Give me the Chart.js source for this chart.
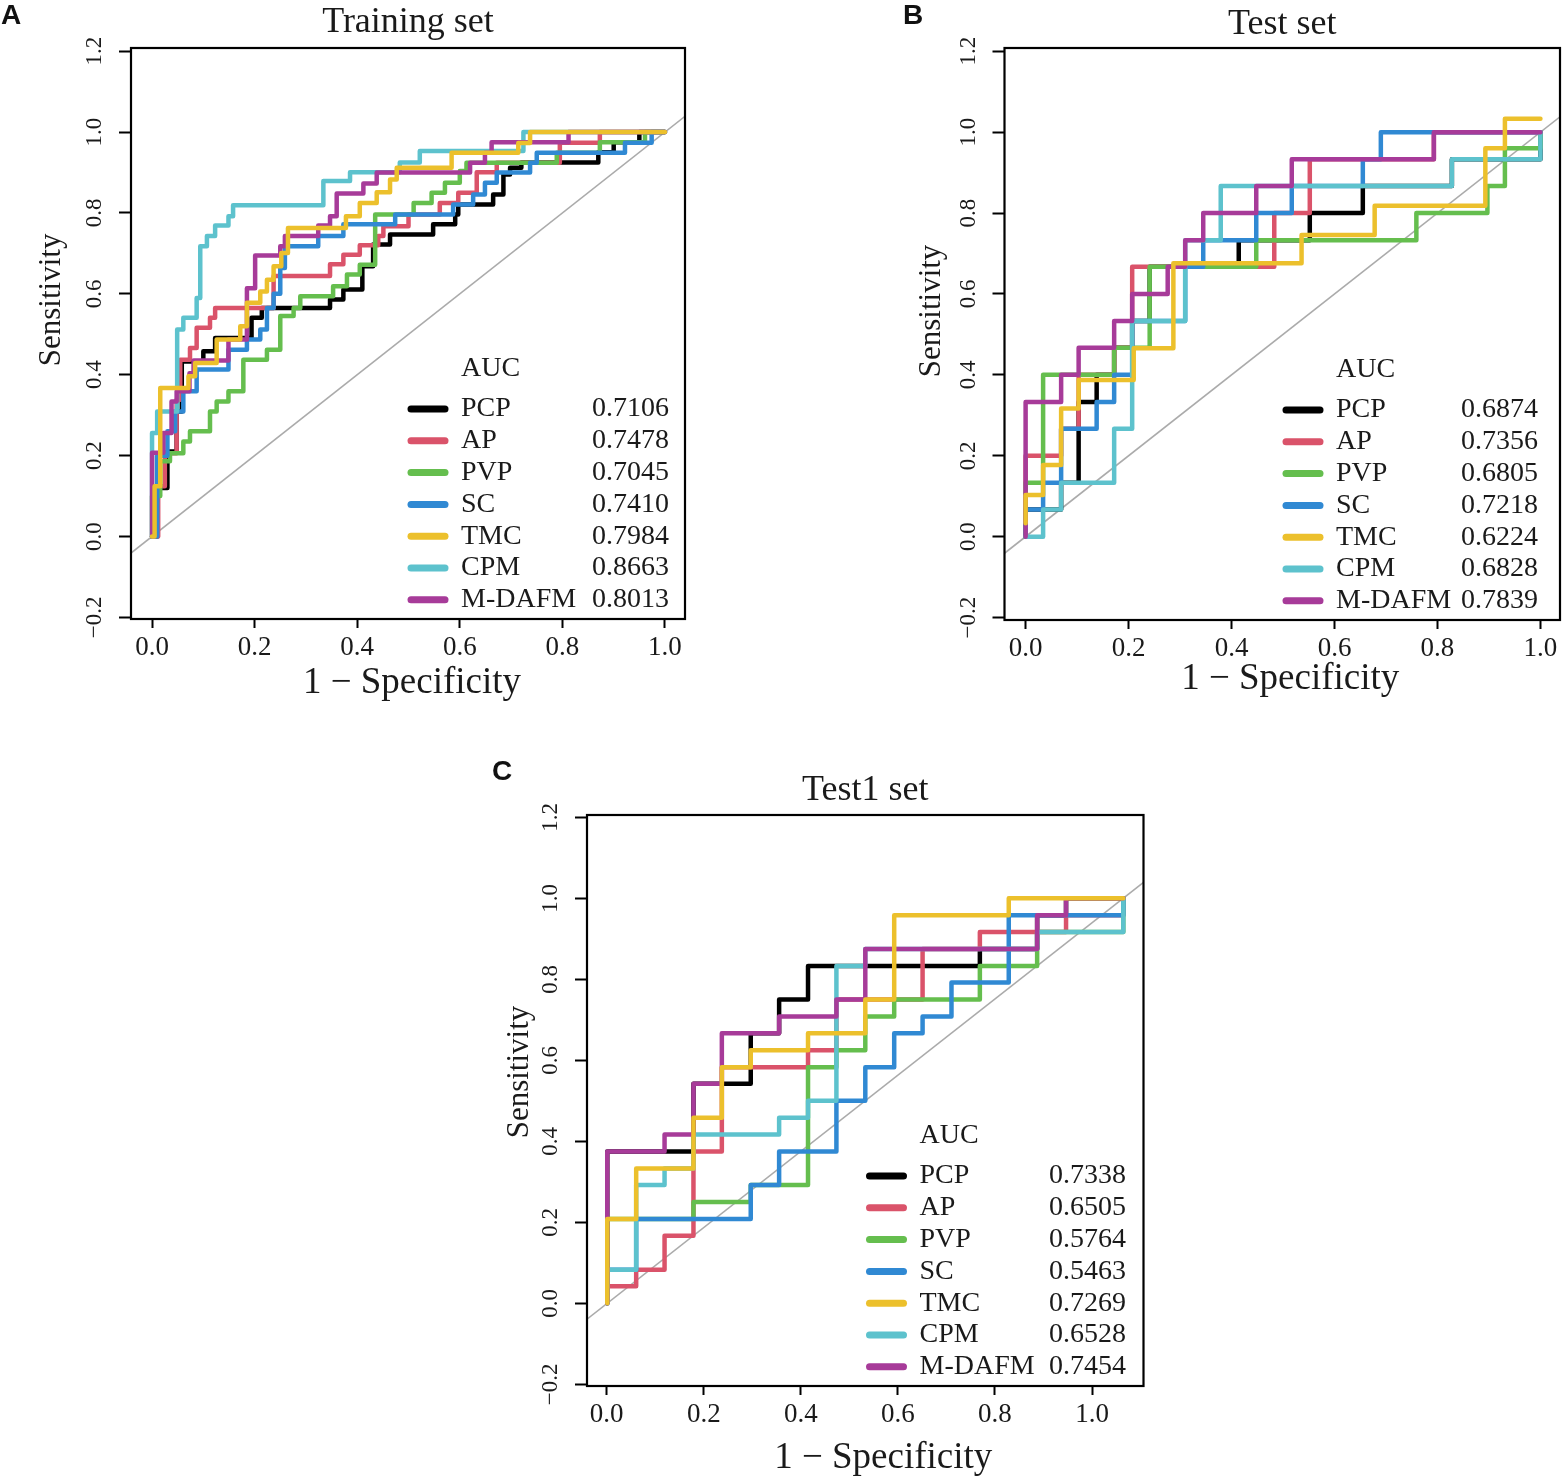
<!DOCTYPE html>
<html>
<head>
<meta charset="utf-8">
<title>ROC curves</title>
<script src="https://cdn.jsdelivr.net/npm/chart.js@4.4.1/dist/chart.umd.min.js"></script>
<style>
  html, body { margin: 0; padding: 0; background: #fff; }
  #page { position: relative; width: 1566px; height: 1484px; overflow: hidden; background: #fff; }
  canvas { position: absolute; }
  .tag { position: absolute; font: bold 28px "Liberation Sans", Arial, sans-serif; color: #111; line-height: 28px; }
</style>
</head>
<body>
<div id="page">
  <canvas id="rocTrain" width="700" height="720" style="left:0px;top:0px"></canvas>
  <canvas id="rocTest" width="696" height="720" style="left:870px;top:0px"></canvas>
  <canvas id="rocTest1" width="680" height="744" style="left:480px;top:740px"></canvas>
  <div class="tag" style="left:1px;top:1px">A</div>
  <div class="tag" style="left:903px;top:1px">B</div>
  <div class="tag" style="left:492px;top:757px">C</div>
</div>
<script>
// ===== DATA =====
const modelNames = ["PCP", "AP", "PVP", "SC", "TMC", "CPM", "M-DAFM"];
const aucTraining = [0.7106, 0.7478, 0.7045, 0.7410, 0.7984, 0.8663, 0.8013];
const aucTest = [0.6874, 0.7356, 0.6805, 0.7218, 0.6224, 0.6828, 0.7839];
const aucTest1 = [0.7338, 0.6505, 0.5764, 0.5463, 0.7269, 0.6528, 0.7454];
const xTickValues = [0, 0.2, 0.4, 0.6, 0.8, 1.0];
const yTickValues = [-0.2, 0, 0.2, 0.4, 0.6, 0.8, 1.0, 1.2];

// ROC corner points: [1 - specificity, sensitivity]
// Training set
const trainPCP = [[0,0],[0.01,0.12],[0.03,0.21],[0.048,0.309],[0.058,0.433],[0.1,0.458],[0.123,0.491],[0.194,0.541],[0.214,0.565],[0.347,0.586],[0.373,0.611],[0.41,0.668],[0.431,0.722],[0.464,0.747],[0.548,0.772],[0.591,0.796],[0.597,0.821],[0.665,0.846],[0.685,0.895],[0.698,0.912],[0.72,0.925],[0.87,0.95],[0.9,0.975],[0.95,1],[1,1]];
const trainAP = [[0,0],[0.012,0.124],[0.025,0.206],[0.048,0.338],[0.055,0.437],[0.074,0.466],[0.087,0.516],[0.113,0.541],[0.123,0.565],[0.237,0.644],[0.347,0.673],[0.373,0.697],[0.405,0.72],[0.441,0.743],[0.451,0.767],[0.5,0.796],[0.561,0.825],[0.597,0.85],[0.633,0.901],[0.672,0.924],[0.795,0.974],[0.873,1],[1,1]];
const trainPVP = [[0,0],[0,0.1],[0.016,0.186],[0.035,0.206],[0.061,0.235],[0.074,0.26],[0.113,0.309],[0.126,0.334],[0.149,0.359],[0.178,0.437],[0.224,0.462],[0.25,0.545],[0.276,0.565],[0.289,0.594],[0.353,0.619],[0.38,0.648],[0.405,0.672],[0.435,0.796],[0.51,0.825],[0.545,0.85],[0.571,0.875],[0.6,0.904],[0.613,0.924],[0.789,0.949],[0.873,0.975],[0.961,1],[1,1]];
const trainSC = [[0,0],[0.01,0.2],[0.03,0.26],[0.045,0.309],[0.061,0.359],[0.087,0.413],[0.149,0.462],[0.185,0.487],[0.211,0.512],[0.224,0.565],[0.237,0.6],[0.25,0.664],[0.259,0.718],[0.324,0.743],[0.373,0.772],[0.474,0.796],[0.587,0.821],[0.626,0.846],[0.649,0.875],[0.672,0.9],[0.737,0.924],[0.75,0.949],[0.922,0.974],[0.974,1],[1,1]];
const trainTMC = [[0,0],[0.005,0.124],[0.016,0.367],[0.071,0.396],[0.084,0.429],[0.126,0.487],[0.172,0.52],[0.185,0.578],[0.211,0.606],[0.224,0.635],[0.237,0.668],[0.252,0.701],[0.265,0.763],[0.378,0.792],[0.405,0.825],[0.438,0.851],[0.464,0.883],[0.477,0.912],[0.584,0.949],[0.714,0.973],[0.737,1],[1,1]];
const trainCPM = [[0,0],[0,0.256],[0.01,0.309],[0.049,0.512],[0.061,0.541],[0.087,0.59],[0.094,0.718],[0.107,0.743],[0.123,0.769],[0.149,0.792],[0.158,0.819],[0.334,0.879],[0.386,0.901],[0.483,0.925],[0.522,0.953],[0.724,1],[1,1]];
const trainMDAFM = [[0,0],[0,0.207],[0.022,0.256],[0.038,0.334],[0.048,0.359],[0.073,0.404],[0.081,0.435],[0.149,0.487],[0.185,0.614],[0.201,0.695],[0.25,0.718],[0.259,0.743],[0.324,0.769],[0.347,0.792],[0.36,0.848],[0.412,0.873],[0.438,0.9],[0.62,0.924],[0.649,0.949],[0.662,0.975],[0.812,1],[1,1]];

// Test set
const testPCP = [[0,0],[0,0.067],[0.069,0.133],[0.103,0.333],[0.138,0.4],[0.172,0.467],[0.207,0.533],[0.241,0.667],[0.414,0.733],[0.552,0.8],[0.655,0.867],[0.828,0.933],[1,1]];
const testAP = [[0,0],[0,0.2],[0.069,0.267],[0.103,0.4],[0.172,0.467],[0.207,0.667],[0.483,0.8],[0.552,0.933],[0.793,1],[1,1]];
const testPVP = [[0,0],[0,0.133],[0.034,0.4],[0.172,0.467],[0.241,0.667],[0.448,0.733],[0.759,0.8],[0.897,0.867],[0.931,0.96],[1,1]];
const testSC = [[0,0],[0,0.067],[0.034,0.133],[0.069,0.267],[0.138,0.333],[0.172,0.4],[0.207,0.533],[0.31,0.667],[0.345,0.733],[0.448,0.8],[0.517,0.867],[0.655,0.933],[0.69,1],[1,1]];
const testTMC = [[0,0.033],[0,0.103],[0.034,0.177],[0.069,0.317],[0.103,0.387],[0.21,0.466],[0.287,0.676],[0.536,0.746],[0.678,0.818],[0.893,0.96],[0.931,1.033],[1,1.033]];
const testCPM = [[0,0],[0.034,0.067],[0.069,0.133],[0.172,0.267],[0.207,0.533],[0.31,0.733],[0.379,0.867],[0.828,0.933],[1,1]];
const testMDAFM = [[0,0],[0,0.333],[0.069,0.4],[0.103,0.467],[0.172,0.533],[0.207,0.6],[0.276,0.667],[0.31,0.733],[0.345,0.8],[0.448,0.867],[0.517,0.933],[0.793,1],[1,1]];

// Test1 set
const test1PCP = [[0,0],[0,0.375],[0.167,0.542],[0.278,0.667],[0.333,0.75],[0.389,0.833],[0.722,0.875],[0.833,0.958],[0.889,1],[1,1]];
const test1AP = [[0,0],[0,0.042],[0.056,0.083],[0.111,0.167],[0.167,0.375],[0.222,0.583],[0.389,0.625],[0.444,0.75],[0.611,0.875],[0.722,0.917],[0.889,0.958],[1,1]];
const test1PVP = [[0,0],[0,0.208],[0.167,0.25],[0.278,0.292],[0.389,0.583],[0.444,0.625],[0.5,0.708],[0.556,0.75],[0.722,0.833],[0.833,0.917],[1,1]];
const test1SC = [[0,0],[0,0.083],[0.056,0.208],[0.278,0.292],[0.333,0.375],[0.444,0.5],[0.5,0.583],[0.556,0.667],[0.611,0.708],[0.667,0.792],[0.778,0.958],[1,1]];
const test1TMC = [[0,0],[0,0.208],[0.056,0.333],[0.167,0.458],[0.222,0.583],[0.278,0.625],[0.389,0.667],[0.5,0.75],[0.556,0.958],[0.778,1],[1,1]];
const test1CPM = [[0,0],[0,0.083],[0.056,0.292],[0.111,0.333],[0.167,0.417],[0.333,0.458],[0.389,0.5],[0.444,0.833],[0.5,0.875],[0.833,0.917],[1,1]];
const test1MDAFM = [[0,0],[0,0.375],[0.111,0.417],[0.167,0.542],[0.222,0.667],[0.333,0.708],[0.444,0.75],[0.5,0.875],[0.833,0.958],[0.889,1],[1,1]];

// ===== STYLE =====
const modelColors = ["#000000", "#DA536A", "#65BE4E", "#3089D3", "#ECC02C", "#5DC2CD", "#A73B99"];
const drawOrder = [6, 5, 4, 3, 0, 2, 1]; // lower = drawn later (TMC on top)
const serif = "'Liberation Serif', 'Times New Roman', serif";
const inkColor = "#1a1a1a";

// ===== PANEL TEXT / BOX / LEGEND =====
const panelDecor = {
  id: 'panelDecor',
  afterDatasetsDraw(chart, args, opts) {
    const ctx = chart.ctx;
    const a = chart.chartArea;
    ctx.save();

    // plot frame
    ctx.strokeStyle = '#000';
    ctx.lineWidth = 2.2;
    ctx.strokeRect(a.left, a.top, a.right - a.left, a.bottom - a.top);

    ctx.fillStyle = inkColor;
    ctx.textBaseline = 'middle';

    // axis titles
    ctx.font = '37px ' + serif;
    ctx.textAlign = 'center';
    ctx.fillText('1 \u2212 Specificity', (a.left + a.right) / 2 + opts.xTitleShift, opts.xTitleY);

    ctx.save();
    ctx.font = '31px ' + serif;
    ctx.translate(opts.yTitleX, chart.scales.y.getPixelForValue(opts.yTitleAt));
    ctx.rotate(-Math.PI / 2);
    ctx.fillText('Sensitivity', 0, 0);
    ctx.restore();

    // AUC legend
    const R = a.right, B = a.bottom;
    ctx.font = '28px ' + serif;
    ctx.textAlign = 'left';
    ctx.fillText('AUC', R - 224, B - 250);
    modelNames.forEach((name, i) => {
      const y = B - 210 + i * 31.8;
      ctx.strokeStyle = modelColors[i];
      ctx.lineWidth = 7;
      ctx.lineCap = 'round';
      ctx.beginPath();
      ctx.moveTo(R - 274, y);
      ctx.lineTo(R - 240, y);
      ctx.stroke();
      ctx.textAlign = 'left';
      ctx.fillText(name, R - 224, y);
      ctx.textAlign = 'right';
      ctx.fillText(opts.aucs[i].toFixed(4), R - opts.valueInset, y);
    });
    ctx.restore();
  }
};

function rocChart(canvasId, title, curves, aucs, f) {
  const datasets = curves.map((pts, i) => ({
    label: modelNames[i],
    data: pts.map(p => ({ x: p[0], y: p[1] })),
    showLine: true,
    stepped: 'before',
    borderColor: modelColors[i],
    backgroundColor: modelColors[i],
    borderWidth: 4.5,
    borderCapStyle: 'round',
    borderJoinStyle: 'round',
    pointRadius: 0,
    fill: false,
    order: drawOrder[i],
    xAxisID: 'x',
    yAxisID: 'y'
  }));

  // chance diagonal across the full plotting range
  datasets.push({
    label: 'chance',
    data: [{ x: f.xMin, y: f.xMin }, { x: f.xMax, y: f.xMax }],
    showLine: true,
    borderColor: '#ababab',
    borderWidth: 1.6,
    pointRadius: 0,
    order: 10,
    clip: 0,
    xAxisID: 'x',
    yAxisID: 'y'
  });

  const tickGrid = { display: true, drawOnChartArea: false, drawTicks: true, tickWidth: 2, tickColor: '#000' };

  return new Chart(document.getElementById(canvasId).getContext('2d'), {
    type: 'scatter',
    data: { datasets: datasets },
    plugins: [panelDecor],
    options: {
      responsive: false,
      animation: false,
      devicePixelRatio: 1,
      layout: { padding: { left: 0, right: f.padRight, top: 0, bottom: 0 } },
      plugins: {
        legend: { display: false },
        tooltip: { enabled: false },
        title: {
          display: true,
          text: title,
          fullSize: false,
          color: inkColor,
          font: { family: serif, size: 36, weight: 'normal' },
          padding: { top: f.titleTop, bottom: f.titleBottom }
        },
        panelDecor: {
          aucs: aucs,
          xTitleShift: f.xTitleShift,
          xTitleY: f.xTitleY,
          yTitleX: f.yTitleX,
          yTitleAt: f.yTitleAt,
          valueInset: f.valueInset
        }
      },
      scales: {
        x: { type: 'linear', display: false, min: f.xMin, max: f.xMax },
        xt: {
          type: 'linear',
          axis: 'x',
          position: 'bottom',
          min: f.tickMin,
          max: f.tickMax,
          afterBuildTicks: s => { s.ticks = xTickValues.map(v => ({ value: v })); },
          afterFit: s => { s.height = f.xAxisHeight; },
          grid: Object.assign({ tickLength: 9 }, tickGrid),
          border: { display: false },
          ticks: {
            autoSkip: false,
            maxRotation: 0,
            padding: 4,
            color: inkColor,
            font: { family: serif, size: 27 },
            callback: v => Number(v).toFixed(1)
          }
        },
        y: {
          type: 'linear',
          position: 'left',
          min: f.yMin,
          max: f.yMax,
          afterBuildTicks: s => { s.ticks = yTickValues.map(v => ({ value: v })); },
          afterFit: s => { s.width = f.yAxisWidth; },
          grid: Object.assign({ tickLength: 12 }, tickGrid),
          border: { display: false },
          ticks: {
            autoSkip: false,
            minRotation: 90,
            maxRotation: 90,
            crossAlign: 'center',
            padding: 3,
            color: inkColor,
            font: { family: serif, size: 23 },
            callback: v => (v < 0 ? '\u2212' : '') + Math.abs(v).toFixed(1)
          }
        }
      }
    }
  });
}

// ===== BUILD PANELS =====
rocChart('rocTrain', 'Training set',
  [trainPCP, trainAP, trainPVP, trainSC, trainTMC, trainCPM, trainMDAFM], aucTraining,
  { yAxisWidth: 131, xAxisHeight: 101, padRight: 15, titleTop: 1.4, titleBottom: 3.4,
    xMin: -0.041, xMax: 1.039, tickMin: -0.041, tickMax: 1.039, yMin: -0.204, yMax: 1.208,
    yTitleX: 52, yTitleAt: 0.585, xTitleShift: 4, xTitleY: 683, valueInset: 16 });

rocChart('rocTest', 'Test set',
  [testPCP, testAP, testPVP, testSC, testTMC, testCPM, testMDAFM], aucTest,
  { yAxisWidth: 134.5, xAxisHeight: 100, padRight: 6, titleTop: 3.4, titleBottom: 1.4,
    xMin: -0.041, xMax: 1.038, tickMin: -0.041, tickMax: 1.038, yMin: -0.206, yMax: 1.208,
    yTitleX: 62, yTitleAt: 0.558, xTitleShift: 8, xTitleY: 679, valueInset: 22 });

rocChart('rocTest1', 'Test1 set',
  [test1PCP, test1AP, test1PVP, test1SC, test1TMC, test1CPM, test1MDAFM], aucTest1,
  { yAxisWidth: 107, xAxisHeight: 98, padRight: 16.5, titleTop: 29.4, titleBottom: 2.4,
    xMin: -0.0393, xMax: 1.0391, tickMin: -0.0406, tickMax: 1.1061, yMin: -0.2042, yMax: 1.2057,
    yTitleX: 40, yTitleAt: 0.571, xTitleShift: 18, xTitleY: 718, valueInset: 17.5 });
</script>
</body>
</html>
